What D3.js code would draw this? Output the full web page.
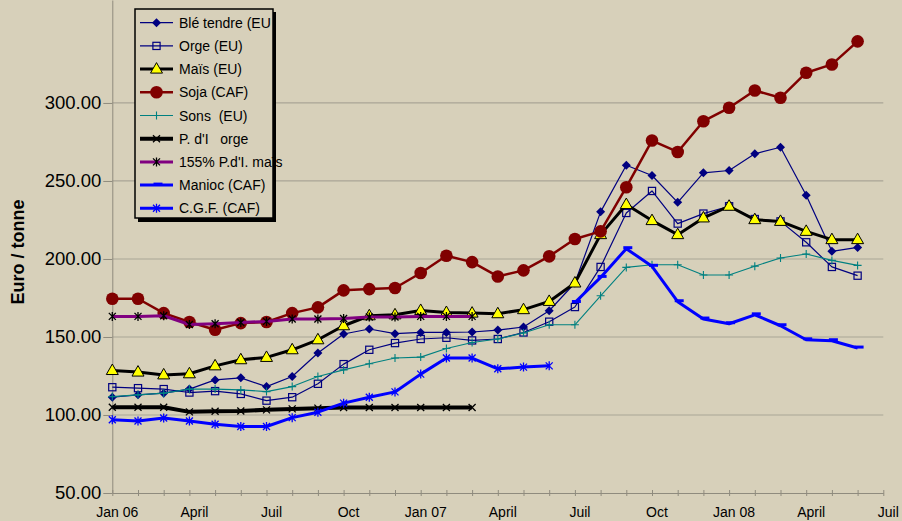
<!DOCTYPE html>
<html>
<head>
<meta charset="utf-8">
<script src="https://cdn.jsdelivr.net/npm/d3@7"></script>
<style>
  body { margin: 0; background: #d7d0ba; }
  svg { display: block; font-family: "Liberation Sans", Arial, sans-serif; }
</style>
</head>
<body>
<div id="chart"></div>
<script>
// month index 0 = Jan 06 ... 30 = Juil 08
const monthCount = 31;
const tickLabels = ["Jan 06", "April", "Juil", "Oct", "Jan 07", "April", "Juil", "Oct", "Jan 08", "April", "Juil"];
const yTicks = [50, 100, 150, 200, 250, 300];

// prices in euro / tonne, one value per month (null = no quote)
const bleTendre = [111.4, 112.9, 114, 116.6, 122.5, 123.8, 118.2, 124.7, 139.7, 151.9, 155.1, 152.1, 152.9, 152.9, 153.2,
  154.4, 156.4, 166.8, 184.6, 230.2, 260.1, 253.5, 236.3, 255.2, 256.7, 267.4, 271.6, 240.9, 204.9, 207.4];
const orge = [117.8, 117.2, 116.6, 114.4, 115.3, 113.5, 109.2, 111.4, 120, 132.6, 141.8, 146.1, 148.7, 149.5, 147.8,
  148.7, 152.9, 159.8, 169.2, 194.9, 229.5, 243.6, 222.7, 229.1, 233.8, 225.6, 224.1, 210.7, 194.9, 189.3];
const mais = [128.5, 127.5, 125.7, 126.4, 131.5, 135.4, 136.9, 141.8, 148.2, 157.2, 163.6, 164.2, 167, 165.7, 165.3,
  164.9, 167.5, 172.8, 184.6, 215.6, 234.9, 224.6, 215.6, 226.3, 233.8, 225.2, 224.1, 217.7, 212.4, 212.4];
const soja = [174.5, 174.5, 165.3, 159.6, 154.6, 158.9, 159.6, 165.3, 169, 179.9, 180.7, 181.4, 191, 202.1, 198,
  188.8, 192.7, 201.7, 212.8, 217.7, 246, 275.9, 268.6, 288.3, 296.9, 308, 303.3, 319.4, 324.7, 339.5];
const sons = [111.8, 112.9, 114, 116.6, 116.6, 116.1, 115, 118.2, 124.7, 128.9, 132.8, 136.5, 137.1, 142.6, 146.5,
  148.7, 152.6, 157.8, 157.8, 176.4, 194.6, 196.3, 196.3, 189.7, 189.7, 195.4, 200.6, 203.2, 199.1, 195.9];
const pdiOrge = [105, 105, 105, 102, 102.4, 102.6, 103.3, 103.9, 104.4, 104.8, 104.8, 104.8, 104.8, 104.8, 104.8];
const pdiMais155 = [163.2, 163.2, 163.6, 158, 158.5, 159.3, 160, 161.5, 161.5, 161.9, 162.8, 162.8, 163.2, 163.2, 163.2];
const manioc = [null, null, null, null, null, null, null, null, null, null, null, null, null, null, null,
  null, null, null, 172.1, 188.2, 206.6, 195.3, 172.6, 161.5, 158.5, 164.2, 157.2, 148.2, 147.6, 142.9];
const cgf = [96.9, 96.2, 98.1, 96.2, 94.1, 92.6, 92.6, 98.3, 101.8, 107.6, 111.4, 114.8, 126.2, 136.5, 136.5,
  129.6, 130.7, 131.5];

const seriesNames = ["Blé tendre (EU", "Orge (EU)", "Maïs (EU)", "Soja (CAF)", "Sons  (EU)",
  "P. d'I   orge", "155% P.d'I. maïs", "Manioc (CAF)", "C.G.F. (CAF)"];
const seriesValues = [bleTendre, orge, mais, soja, sons, pdiOrge, pdiMais155, manioc, cgf];

// look of each series (line colour, width, marker)
const styles = [
  { color: "#000080", width: 1.2, marker: "diamond", mColor: "#000080" },
  { color: "#000080", width: 1.2, marker: "square", mColor: "#000080" },
  { color: "#000000", width: 3, marker: "triangle", mColor: "#000000" },
  { color: "#800000", width: 2.5, marker: "circle", mColor: "#800000" },
  { color: "#008080", width: 1.1, marker: "plus", mColor: "#008080" },
  { color: "#000000", width: 4, marker: "cross", mColor: "#000000" },
  { color: "#800080", width: 3, marker: "star", mColor: "#000000" },
  { color: "#0000ff", width: 3, marker: "dash", mColor: "#0000ff" },
  { color: "#0000ff", width: 3, marker: "star", mColor: "#0000ff" }
];

const svgWidth = 902, svgHeight = 521;
const bg = "#d7d0ba";
const gridColor = "#aaa596";

const svg = d3.select("#chart").append("svg")
  .attr("width", svgWidth)
  .attr("height", svgHeight);

svg.append("rect").attr("width", svgWidth).attr("height", svgHeight).attr("fill", bg);

const xScale = d3.scaleLinear().domain([0, monthCount - 1]).range([112.3, 883.3]);
const yScale = d3.scaleLinear().domain([50, 366]).range([493, 0]);

// horizontal gridlines
svg.append("g").selectAll("line")
  .data(yTicks.slice(1))
  .join("line")
  .attr("x1", xScale(0)).attr("x2", xScale(monthCount - 1))
  .attr("y1", d => yScale(d)).attr("y2", d => yScale(d))
  .attr("stroke", gridColor).attr("stroke-width", 1.2);

// y axis
const yAxis = d3.axisLeft(yScale)
  .tickValues(yTicks)
  .tickSize(9)
  .tickSizeOuter(0)
  .tickPadding(2)
  .tickFormat(d3.format(".2f"));

const yG = svg.append("g")
  .attr("transform", `translate(${xScale(0)},0)`)
  .call(yAxis);
yG.select(".domain").attr("stroke", "#8f8b7e");
yG.selectAll(".tick line").attr("stroke", "#8f8b7e");
yG.selectAll(".tick text")
  .attr("font-family", "Liberation Sans, Arial, sans-serif")
  .attr("font-size", 18.5)
  .attr("fill", "#000");

// x axis, ticks every month crossing the line
const xAxis = d3.axisBottom(xScale)
  .tickValues(d3.range(monthCount))
  .tickSize(3)
  .tickSizeOuter(0)
  .tickFormat("");

const xG = svg.append("g")
  .attr("transform", `translate(0,${yScale(50)})`)
  .call(xAxis);
xG.select(".domain").attr("stroke", "#8f8b7e");
xG.selectAll(".tick line").attr("stroke", "#8f8b7e").attr("y1", -3);

svg.append("g").selectAll("text")
  .data(tickLabels)
  .join("text")
  .attr("x", (d, i) => xScale(i * 3) + 5)
  .attr("y", 517)
  .attr("text-anchor", "middle")
  .attr("font-size", 14)
  .text(d => d);

// y axis title
svg.append("text")
  .attr("transform", "translate(24,252) rotate(-90)")
  .attr("text-anchor", "middle")
  .attr("font-size", 18)
  .attr("font-weight", "bold")
  .text("Euro / tonne");

// marker drawing
function drawMarker(g, type, color) {
  switch (type) {
    case "diamond":
      g.append("path").attr("d", "M0,-4.5L4.5,0L0,4.5L-4.5,0Z").attr("fill", color);
      break;
    case "square":
      g.append("rect").attr("x", -3.6).attr("y", -3.6).attr("width", 7.2).attr("height", 7.2)
        .attr("fill", "none").attr("stroke", color).attr("stroke-width", 1.2);
      break;
    case "triangle":
      g.append("path").attr("d", "M0,-6.5L6,4L-6,4Z")
        .attr("fill", "#ffff00").attr("stroke", "#000").attr("stroke-width", 1);
      break;
    case "circle":
      g.append("circle").attr("r", 6.3).attr("fill", color);
      break;
    case "plus":
      g.append("path").attr("d", "M-4,0H4M0,-4V4").attr("stroke", color).attr("stroke-width", 1.1);
      break;
    case "cross":
      g.append("path").attr("d", "M-3.5,-3.5L3.5,3.5M-3.5,3.5L3.5,-3.5").attr("stroke", color).attr("stroke-width", 1.3);
      break;
    case "star":
      g.append("path").attr("d", "M-3.5,-3.5L3.5,3.5M-3.5,3.5L3.5,-3.5M0,-4.5V4.5").attr("stroke", color).attr("stroke-width", 1.3);
      break;
    case "dash":
      g.append("path").attr("d", "M-3,-1H6").attr("stroke", color).attr("stroke-width", 3);
      break;
  }
}

const line = d3.line()
  .defined(d => d != null)
  .x((d, i) => xScale(i))
  .y(d => yScale(d));

seriesValues.forEach((vals, s) => {
  const st = styles[s];
  const g = svg.append("g");
  g.append("path")
    .attr("d", line(vals))
    .attr("fill", "none")
    .attr("stroke", st.color)
    .attr("stroke-width", st.width)
    .attr("stroke-linejoin", "round");
  vals.forEach((v, i) => {
    if (v == null) return;
    const m = g.append("g").attr("transform", `translate(${xScale(i)},${yScale(v)})`);
    drawMarker(m, st.marker, st.mColor);
  });
});

// legend
const legend = svg.append("g");
legend.append("rect").attr("x", 138).attr("y", 12).attr("width", 138).attr("height", 210).attr("fill", "#000");
legend.append("rect").attr("x", 135).attr("y", 9).attr("width", 138).attr("height", 209)
  .attr("fill", bg).attr("stroke", "#000").attr("stroke-width", 1.5);

seriesNames.forEach((name, s) => {
  const st = styles[s];
  const ly = 22.7 + s * 23.2;
  legend.append("line")
    .attr("x1", 140).attr("x2", 173)
    .attr("y1", ly).attr("y2", ly)
    .attr("stroke", st.color)
    .attr("stroke-width", st.width);
  drawMarker(legend.append("g").attr("transform", `translate(156.5,${ly})`), st.marker, st.mColor);
  legend.append("text")
    .attr("x", 179)
    .attr("y", ly + 5)
    .attr("font-size", 14)
    .style("white-space", "pre")
    .text(name);
});
</script>
</body>
</html>
